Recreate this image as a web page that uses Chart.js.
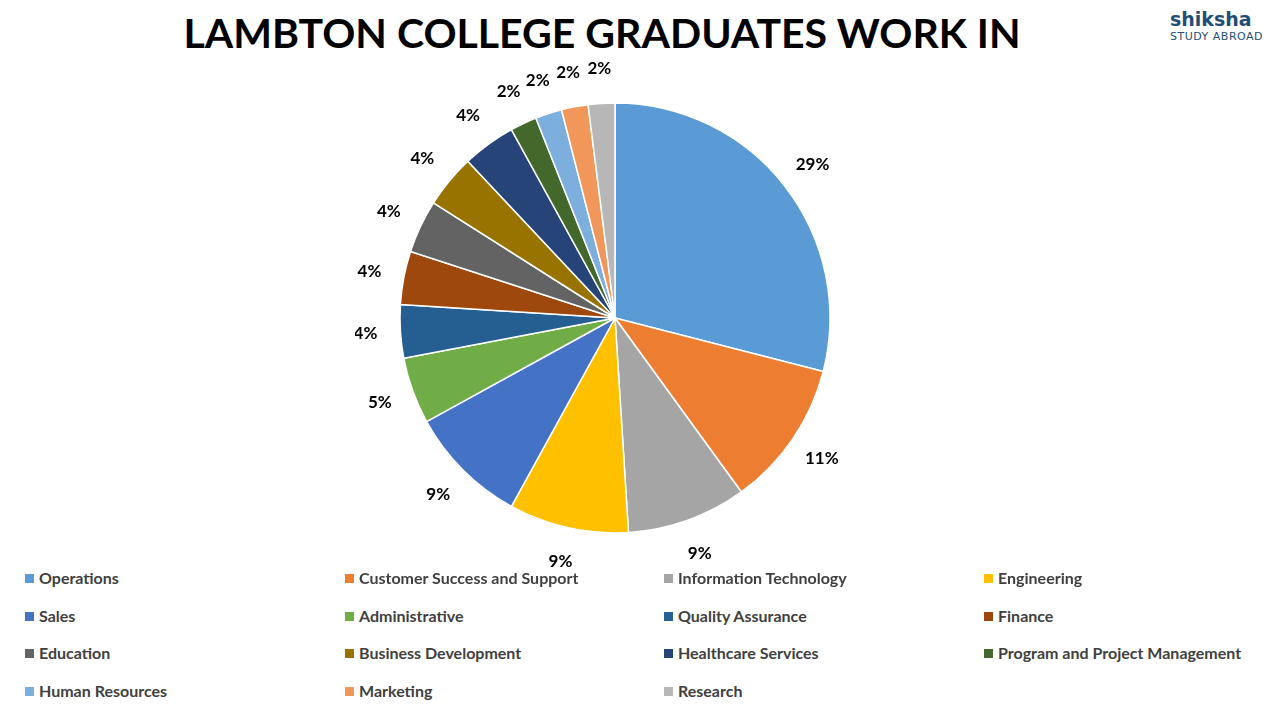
<!DOCTYPE html>
<html>
<head>
<meta charset="utf-8">
<script src="https://cdn.jsdelivr.net/npm/chart.js@4/dist/chart.umd.min.js"></script>
<style>
  body { margin: 0; width: 1280px; height: 720px; background: #fff; font-family: Lato, "Open Sans", sans-serif; position: relative; overflow: hidden; }
  #title { position: absolute; top: 8px; left: 0; width: 1204px; text-align: center; font-size: 41px; font-weight: bold; color: #000; }
  #logo { position: absolute; top: 8px; left: 1170px; font-family: "DejaVu Sans", sans-serif; color: #1f4e79; }
  #logo .a { font-size: 19px; font-weight: bold; }
  #logo .b { font-size: 11px; letter-spacing: 0.5px; }
  #box { position: absolute; left: 355px; top: 58px; width: 520px; height: 520px; }
  #legend { position: absolute; left: 25px; top: 568px; }
  .item { position: absolute; white-space: nowrap; font-size: 16px; font-weight: bold; color: #404040; }
  .sw { display: inline-block; width: 9px; height: 9px; margin-right: 5px; vertical-align: 1px; }
</style>
</head>
<body>
<div id="title">LAMBTON COLLEGE GRADUATES WORK IN</div>
<div id="logo"><div class="a">shiksha</div><div class="b">STUDY ABROAD</div></div>
<div id="box"><canvas id="pie"></canvas></div>
<div id="legend"></div>
<script>
var categories = ["Operations", "Customer Success and Support", "Information Technology", "Engineering",
  "Sales", "Administrative", "Quality Assurance", "Finance",
  "Education", "Business Development", "Healthcare Services", "Program and Project Management",
  "Human Resources", "Marketing", "Research"];
var shares = [29, 11, 9, 9, 9, 5, 4, 4, 4, 4, 4, 2, 2, 2, 2];
var colors = ["#5B9BD5", "#ED7D31", "#A5A5A5", "#FFC000", "#4472C4", "#70AD47", "#255E91", "#9E480E",
  "#636363", "#997300", "#264478", "#43682B", "#7CAFDD", "#F1975A", "#B7B7B7"];

var legend = document.getElementById("legend");
var colX = [0, 320, 639, 959];
categories.forEach(function (c, i) {
  var d = document.createElement("div");
  d.className = "item";
  d.style.left = colX[i % 4] + "px";
  d.style.top = (Math.floor(i / 4) * 37.7) + "px";
  d.innerHTML = '<span class="sw" style="background:' + colors[i] + '"></span>' + c;
  legend.appendChild(d);
});

var outLabels = {
  id: "outLabels",
  afterDatasetsDraw: function (chart) {
    var ctx = chart.ctx;
    var meta = chart.getDatasetMeta(0);
    ctx.save();
    ctx.font = "bold 17px Lato, 'Open Sans', sans-serif";
    ctx.fillStyle = "#000";
    ctx.textAlign = "center";
    ctx.textBaseline = "middle";
    meta.data.forEach(function (arc, i) {
      var a = (arc.startAngle + arc.endAngle) / 2;
      var r = arc.outerRadius + 35;
      ctx.fillText(shares[i] + "%", arc.x + Math.cos(a) * r, arc.y + Math.sin(a) * r);
    });
    ctx.restore();
  }
};

new Chart(document.getElementById("pie"), {
  type: "pie",
  data: {
    labels: categories,
    datasets: [{ data: shares, backgroundColor: colors, borderColor: "#fff", borderWidth: 1.5 }]
  },
  options: {
    responsive: true,
    maintainAspectRatio: false,
    animation: false,
    radius: 215,
    plugins: { legend: { display: false }, tooltip: { enabled: false } }
  },
  plugins: [outLabels]
});
</script>
</body>
</html>
